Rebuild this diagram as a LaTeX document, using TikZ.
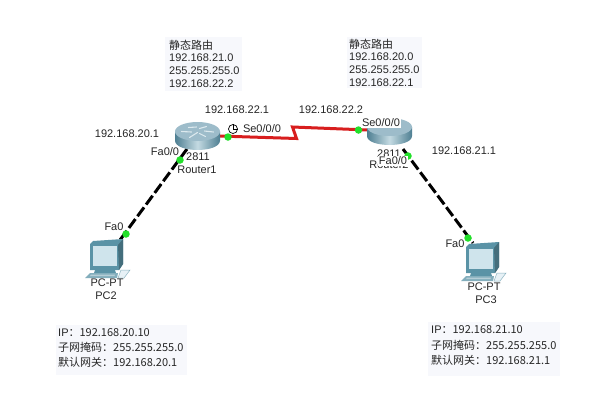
\documentclass[tikz,border=0pt]{standalone}
\usepackage{fontspec}
\setmainfont{Liberation Sans}
\newfontfamily\cjk{Noto Sans CJK SC}
\definecolor{boxbg}{HTML}{F7F8FC}
\definecolor{dotgreen}{HTML}{22E02A}
\definecolor{linkred}{HTML}{D81E1E}
\definecolor{rtop}{HTML}{9DBCCA}
\definecolor{rdark}{HTML}{4E7F92}
\definecolor{rmid}{HTML}{C4DAE2}
\definecolor{pcdark}{HTML}{5A93A6}
\definecolor{pcscreen}{HTML}{CFE4EC}
\tikzset{
  lbl/.style={inner sep=0pt,font=\fontsize{11}{13}\selectfont,text=black!85},
  info/.style={lbl,anchor=west},
  whitelbl/.style={lbl,fill=white,inner sep=1pt},
  notebox/.style={fill=boxbg,draw=none},
  port/.style={circle,fill=dotgreen,draw=none,minimum size=7.5pt,inner sep=0pt},
  serial/.style={draw=linkred,line width=3pt,line join=miter},
  ether/.style={draw=black,line width=3pt,dash pattern=on 11pt off 3.5pt},
  arrowmark/.style={draw=rmid!60!white,line width=1.1pt,line cap=round},
  pics/routericon/.style n args={3}{code={
    \shade[left color=rdark,right color=rdark,middle color=rmid]
      (-#1,0) -- (-#1,#3) .. controls (-#1,{#3+1.33*#2}) and (#1,{#3+1.33*#2}) .. (#1,#3) -- (#1,0) -- cycle;
    \fill[rtop] (0,0) ellipse[x radius=#1,y radius=#2];
  }},
  pics/pcicon/.style={code={
    \fill[pcdark] (3,2) -- (6,-1) -- (36,-3) -- (36,22) -- (32,28) -- (3,28) -- cycle;
    \fill[pcdark!75!black] (31,3) -- (36,-3) -- (36,22) -- (32,28) -- cycle;
    \fill[pcscreen] (5.5,4) -- (30,4) -- (30,24) -- (5.5,24) -- cycle;
    \fill[pcdark] (8,28) -- (28,28) -- (29,31) -- (7,31) -- cycle;
    \fill[pcdark!75!white] (-2,36) -- (3,31) -- (31,31) -- (30,36) -- cycle;
    \fill[pcscreen!50!white] (31,36) -- (34,28) -- (43,28) -- (37,36) -- cycle;
    \draw[pcdark!70!white,line width=.5pt] (31,36) -- (34,28) -- (43,28) -- (37,36) -- cycle;
    \fill[pcdark!45!white] (4,32.5) -- (28,32.5) -- (27.5,34) -- (3,34) -- cycle;
  }}
}
\begin{document}
\begin{tikzpicture}[x=1pt,y=-1pt]
\useasboundingbox (0,0) rectangle (598,400);
\fill[white] (0,0) rectangle (598,400);

% note backgrounds
\fill[notebox] (165,37) rectangle (242,91);
\fill[notebox] (347,37) rectangle (422,88);
\fill[notebox] (56,325) rectangle (187,375);
\fill[notebox] (428,322) rectangle (560,376);

% anchors of the devices
\coordinate (router1) at (197.5,131.5);
\coordinate (router2) at (389.5,127);
\coordinate (pc2) at (87,242);
\coordinate (pc3) at (463,245);

% ports
\coordinate (r1eth) at (187,149);
\coordinate (r2eth) at (403,149);
\coordinate (pc2eth) at (120,240);
\coordinate (pc3eth) at (473,243);
\coordinate (r1ser) at (219,136);
\coordinate (r2ser) at (368,130);
\coordinate (zigA) at (296.5,138.5);
\coordinate (zigB) at (292.5,127);

% links
\draw[ether] (r1eth) -- (pc2eth);
\draw[ether] (r2eth) -- (pc3eth);
\draw[serial] (r1ser) -- (zigA) -- (zigB) -- (r2ser);

% router 1
\pic at (router1) {routericon={22.5}{9.5}{9}};
\begin{scope}[shift={(router1)}]
  \draw[arrowmark] (-16,0) -- (-6,0.5) (-9,-4) -- (-1,-4.5);
  \draw[arrowmark] (16,0.5) -- (7,-0.5) (9,-5) -- (2,-3);
  \draw[arrowmark] (-8,6) -- (0,1) (8,5) -- (2,2);
\end{scope}
% router 2
\pic at (router2) {routericon={22.5}{9}{9}};
% pcs
\pic at (pc2) {pcicon};
\pic at (pc3) {pcicon};

% port dots
\node[port] (d1) at (228,137) {};
\node[port] (d2) at (358.5,130) {};
\node[port] (d3) at (180,160) {};
\node[port] (d4) at (126,234) {};
\node[port] (d5) at (408,156) {};
\node[port] (d6) at (468,238) {};

% clock
\node[circle,draw=black,line width=.7pt,minimum size=9pt,inner sep=0pt,fill=white] (clock) at (233,129) {};
\draw[line width=.6pt] (clock.center) -- (clock.north) (clock.center) -- (clock.east);

% notes
\node[info] (n1a) at (169,45) {\cjk 静态路由};
\node[info] (n1b) at (169,58) {192.168.21.0};
\node[info] (n1c) at (169,71) {255.255.255.0};
\node[info] (n1d) at (169,84) {192.168.22.2};

\node[info] (n2a) at (349,44) {\cjk 静态路由};
\node[info] (n2b) at (349,57) {192.168.20.0};
\node[info] (n2c) at (349,70) {255.255.255.0};
\node[info] (n2d) at (349,83) {192.168.22.1};

\node[info] (n3a) at (58,333) {IP\cjk{：}192.168.20.10};
\node[info] (n3b) at (58,347) {\cjk{子网掩码：}255.255.255.0};
\node[info] (n3c) at (58,362) {\cjk{默认网关：}192.168.20.1};

\node[info] (n4a) at (431,330) {IP\cjk{：}192.168.21.10};
\node[info] (n4b) at (431,345) {\cjk{子网掩码：}255.255.255.0};
\node[info] (n4c) at (431,360) {\cjk{默认网关：}192.168.21.1};

% labels
\node[lbl] (ip1) at (237,110) {192.168.22.1};
\node[lbl] (ip2) at (331,110) {192.168.22.2};
\node[lbl] (ip3) at (127,134) {192.168.20.1};
\node[lbl] (ip4) at (464,151) {192.168.21.1};
\node[lbl] (se1) at (262,129) {Se0/0/0};
\node[lbl] (fa1) at (165,152) {Fa0/0};
\node[lbl] (m1) at (198,157) {2811};
\node[lbl] (name1) at (197,170) {Router1};
\node[lbl] (m2) at (389,154) {2811};
\node[lbl] (name2) at (389,165) {Router2};
\node[whitelbl] (se2) at (381,123) {Se0/0/0};
\node[whitelbl] (fa2) at (393,161) {Fa0/0};
\node[lbl] (fa3) at (114,227) {Fa0};
\node[lbl] (fa4) at (455,244) {Fa0};
\node[lbl] (t1) at (107,283) {PC-PT};
\node[lbl] (n1) at (106,296) {PC2};
\node[lbl] (t2) at (484,287) {PC-PT};
\node[lbl] (n2) at (486,300) {PC3};
\end{tikzpicture}
\end{document}
